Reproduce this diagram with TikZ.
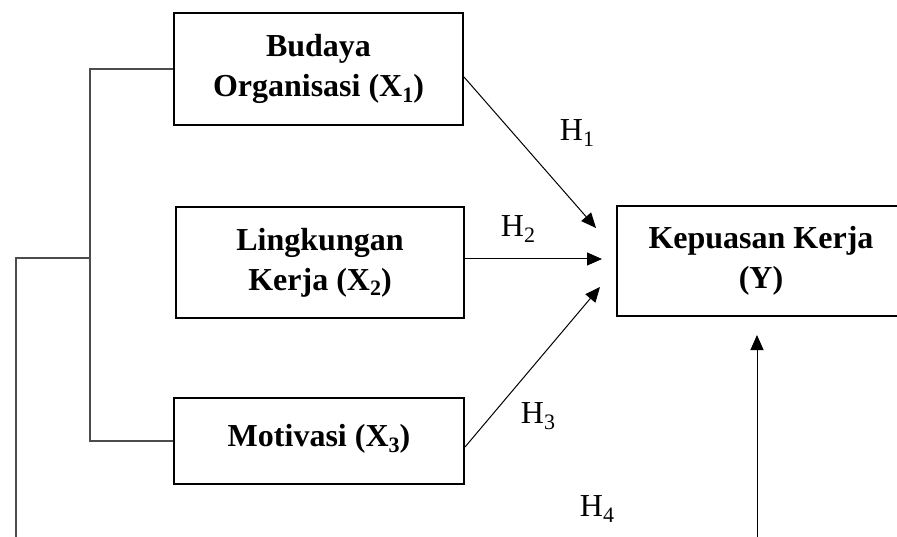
\documentclass[tikz,border=0pt]{standalone}
\usepackage{fontspec}
\setmainfont{Liberation Serif}
\usetikzlibrary{arrows.meta}
\newcommand\subs[1]{\raisebox{-0.18em}{\fontsize{22}{22}\selectfont #1}}
\begin{document}
\begin{tikzpicture}[x=1pt,y=-1pt,
  box/.style={draw=black,line width=2pt,align=center,inner sep=0pt,
    font=\fontsize{32}{40}\selectfont\bfseries},
  conn/.style={draw=black!70,line width=1.1pt},
  arr/.style={draw=black,line width=1pt,-{Triangle[length=15pt,width=13pt]}},
  hlab/.style={font=\fontsize{32}{36}\selectfont,inner sep=0pt}]
\useasboundingbox (0,0) rectangle (897,537);
\node[box,minimum width=289pt,minimum height=112pt] (x1) at (318.5,69) {Budaya\\Organisasi (X\subs{1})};
\node[box,minimum width=288pt,minimum height=111pt] (x2) at (320,262.5) {Lingkungan\\Kerja (X\subs{2})};
\node[box,minimum width=290pt,minimum height=86pt] (x3) at (319,441) {\raisebox{11pt}{Motivasi (X\subs{3})}};
\node[box,minimum width=288pt,minimum height=110pt] (y) at (761,261) {Kepuasan Kerja\\(Y)};
% bracket
\coordinate (j) at (91,258);
\coordinate (l) at (16,258);
\coordinate (lb) at (16,537);
\draw[conn] (x1.west) -- ++(-83,0) |- (x3.west);
\draw[conn] (j) -- (l) -- (lb);
% arrows
\coordinate (t1) at (596,228);
\coordinate (t2) at (602,259);
\coordinate (t3) at (600,287);
\coordinate (t4) at (757,335);
\coordinate (b4) at (757,537);
\draw[arr] ([yshift=-8pt]x1.east) -- (t1);
\draw[arr] (x2.east |- t2) -- (t2);
\draw[arr] ([yshift=-6pt]x3.east) -- (t3);
\draw[arr] (b4) -- (t4);
% labels
\node[hlab] (h1) at (577,133) {H\subs{1}};
\node[hlab] (h2) at (518,229) {H\subs{2}};
\node[hlab] (h3) at (538,416) {H\subs{3}};
\node[hlab] (h4) at (597,509) {H\subs{4}};
\end{tikzpicture}
\end{document}
